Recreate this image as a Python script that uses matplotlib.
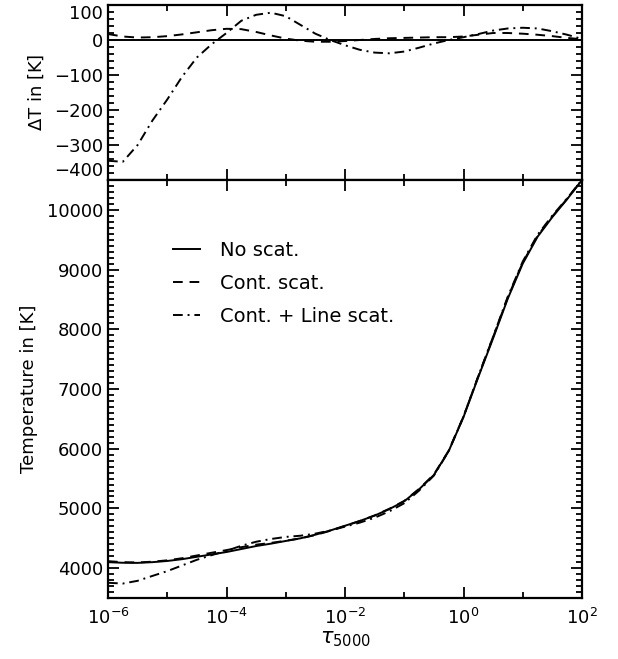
import numpy as np
import matplotlib
matplotlib.use("Agg")
import matplotlib.pyplot as plt
from matplotlib.ticker import FixedLocator, MultipleLocator, LogFormatterSciNotation, NullFormatter

# log10(tau_5000) sample grid
log_tau = [-6.0, -5.75, -5.5, -5.25, -5.0, -4.75, -4.5, -4.25, -4.0, -3.75, -3.5,
           -3.25, -3.0, -2.75, -2.5, -2.25, -2.0, -1.75, -1.5, -1.25, -1.0,
           -0.75, -0.5, -0.25, 0.0, 0.25, 0.5, 0.75, 1.0, 1.25, 1.5, 1.75, 2.0]

# Temperature without scattering [K]
T_noscat = [4100, 4090, 4088, 4100, 4120, 4150, 4190, 4230, 4270, 4320, 4370,
            4410, 4455, 4500, 4560, 4630, 4710, 4790, 4880, 4990, 5120,
            5320, 5560, 5960, 6530, 7200, 7850, 8520, 9100, 9550, 9880, 10180, 10500]

# Temperature differences [K]
dT_noscat = [0] * 33
dT_cont = [17, 10, 7, 8, 11, 16, 22, 28, 32, 31, 23,
           13, 4, -2, -5, -5, -3, 0, 3, 5, 6,
           7, 8, 8, 10, 15, 20, 20, 18, 15, 11, 6, 2]
dT_line = [-345, -348, -300, -230, -170, -105, -50, -12, 20, 55, 72,
           78, 68, 43, 18, 0, -15, -28, -36, -38, -33,
           -22, -10, 0, 8, 17, 27, 33, 35, 33, 25, 15, 3]

labels = ["No scat.", "Cont. scat.", "Cont. + Line scat."]

tau = 10.0 ** np.array(log_tau)
T0 = np.array(T_noscat, dtype=float)
T_c = T0 + np.array(dT_cont)
T_l = T0 + np.array(dT_line)

plt.rcParams['font.family'] = ['DejaVu Sans']
fs = 13

fig = plt.figure(figsize=(6.18, 6.59), dpi=100)
L, R = 108 / 618, 582 / 618
y_top, y_mid, y_bot = 1 - 5 / 659, 1 - 180 / 659, 1 - 598 / 659
ax1 = fig.add_axes([L, y_mid, R - L, y_top - y_mid])
ax2 = fig.add_axes([L, y_bot, R - L, y_mid - y_bot])

styles = [dict(ls='-'), dict(ls=(0, (5, 3.5))), dict(ls=(0, (5, 2.5, 1, 2.5)))]
lw = 1.4

for d, st in zip([dT_noscat, dT_cont, dT_line], styles):
    ax1.plot(tau, d, color='black', lw=lw, **st)
handles = []
for T, st, lab in zip([T0, T_c, T_l], styles, labels):
    h, = ax2.plot(tau, T, color='black', lw=lw, label=lab, **st)
    handles.append(h)

for ax in (ax1, ax2):
    ax.set_xscale('log')
    ax.set_xlim(1e-6, 1e2)
    ax.xaxis.set_major_locator(FixedLocator([1e-6, 1e-4, 1e-2, 1e0, 1e2]))
    ax.xaxis.set_minor_locator(FixedLocator([1e-5, 1e-3, 1e-1, 1e1]))
    ax.xaxis.set_minor_formatter(NullFormatter())
    ax.tick_params(which='both', direction='in', top=True, right=True,
                   labelsize=fs, width=1.3)
    ax.tick_params(which='major', length=8)
    ax.tick_params(which='minor', length=4)
    for s in ax.spines.values():
        s.set_linewidth(1.6)

ax1.set_ylim(-400, 100)
ax1.yaxis.set_major_locator(MultipleLocator(100))
ax1.yaxis.set_minor_locator(MultipleLocator(20))
ax1.tick_params(axis='x', labelbottom=False)
ax1.set_ylabel(r'$\Delta$T in [K]', fontsize=fs, labelpad=6)

ax2.set_ylim(3500, 10500)
ax2.yaxis.set_major_locator(FixedLocator([4000, 5000, 6000, 7000, 8000, 9000, 10000]))
ax2.yaxis.set_minor_locator(MultipleLocator(100))
ax2.xaxis.set_major_formatter(LogFormatterSciNotation())
ax2.set_ylabel('Temperature in [K]', fontsize=fs, labelpad=6)
ax2.set_xlabel(r'$\tau_{\rm 5000}$', fontsize=fs + 2, labelpad=1)
ax2.tick_params(axis='x', pad=7)

fig.canvas.draw()
for lab in ax1.get_yticklabels():
    txt = lab.get_text()
    if txt.endswith('100') and not ('\u2212' in txt or '-' in txt):
        lab.set_va('top')
    if '400' in txt:
        lab.set_va('bottom')

ax2.legend(handles=handles, loc='upper left', bbox_to_anchor=(0.10, 0.897),
           frameon=False, fontsize=14, handlelength=1.4, handletextpad=1.0,
           labelspacing=0.72)

fig.savefig('out.png', dpi=100)
